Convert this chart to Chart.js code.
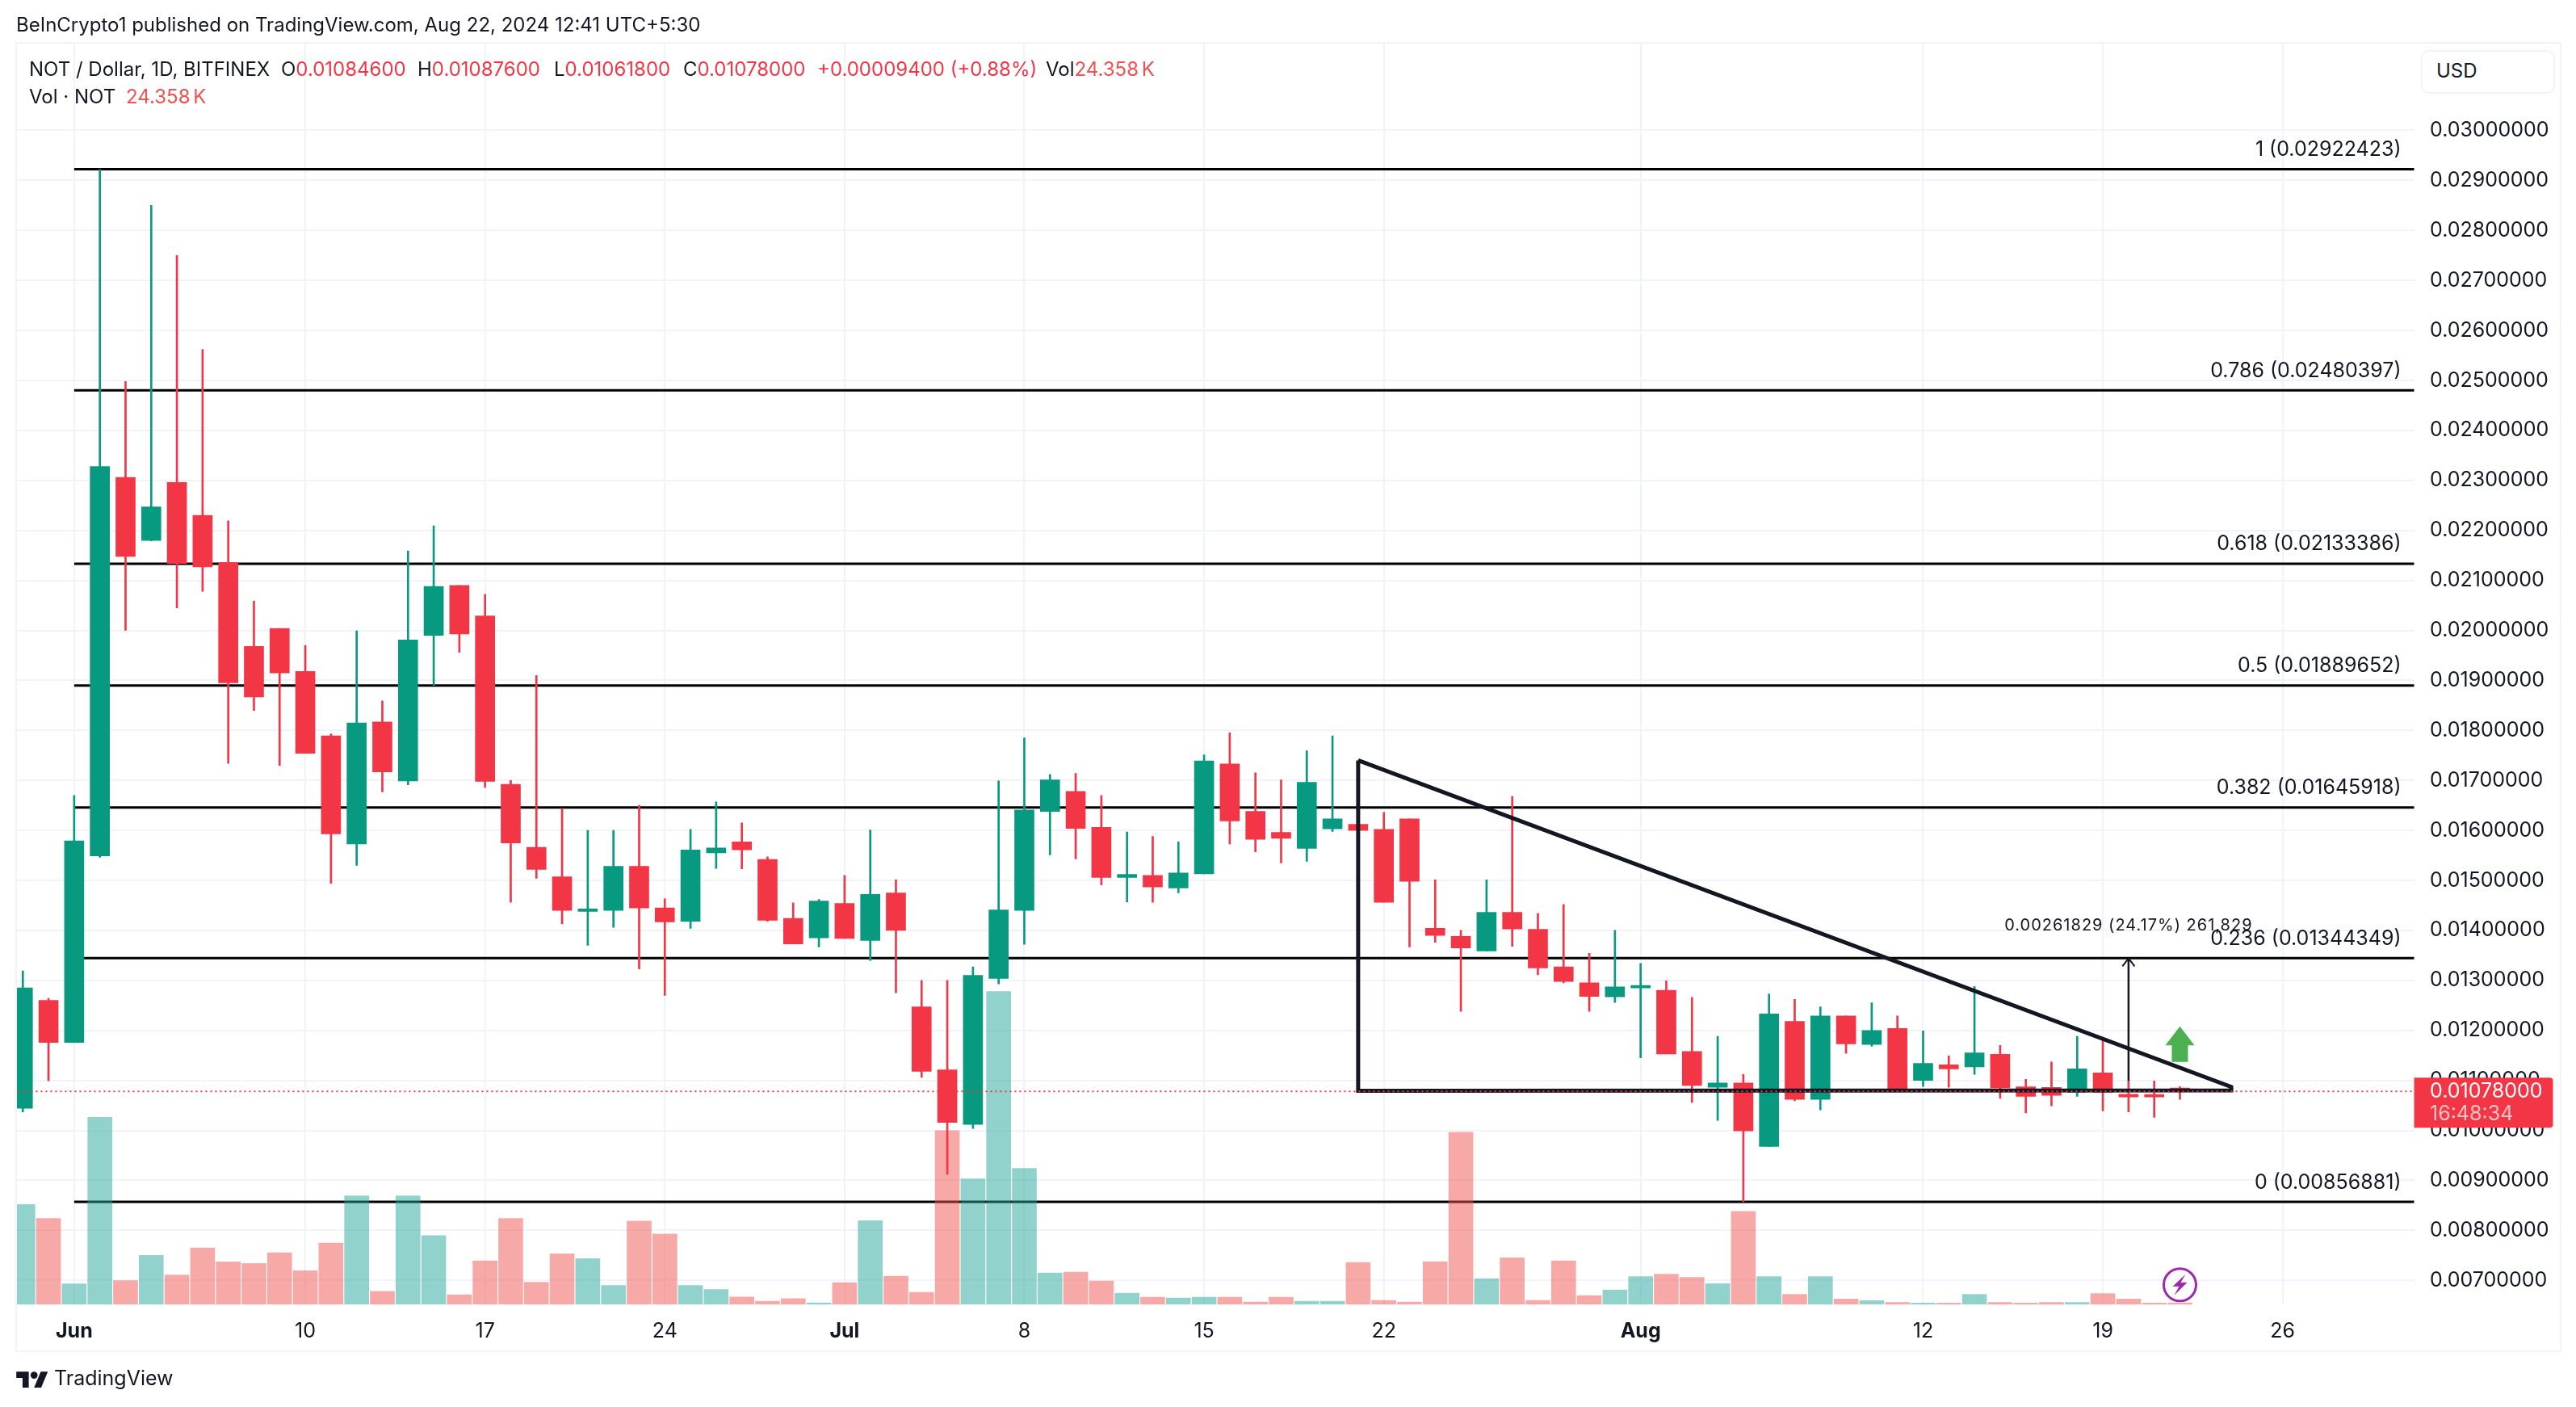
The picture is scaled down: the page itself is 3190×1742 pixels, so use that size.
<!DOCTYPE html>
<html>
<head>
<meta charset="utf-8">
<title>NOT / Dollar, 1D, BITFINEX</title>
<script src="https://cdn.jsdelivr.net/npm/chart.js@4"></script>
<style>
  html, body { margin: 0; padding: 0; background: #fff; }
  #wrap { position: relative; width: 3190px; height: 1742px; overflow: hidden; font-family: Inter, sans-serif; color: #131722; }
  #chart { position: absolute; left: 0; top: 0; }
  .t { position: absolute; white-space: pre; font-size: 24px; line-height: 30px; }
  .r { color: #f23645; }
  .v { color: #ef5350; word-spacing: -3px; }
  #frame { position: absolute; left: 19px; top: 52px; width: 3149px; height: 1618px; border: 2px solid #f0f3fa; pointer-events: none; }
  #usd { position: absolute; left: 2998px; top: 62px; width: 162px; height: 50px; border: 2px solid #f0f3fa; border-radius: 10px; background: #fff; }
  #logo { position: absolute; left: 20px; top: 1696px; }
</style>
</head>
<body>
<div id="wrap">
  <canvas id="chart" width="3190" height="1742"></canvas>
  <div id="frame"></div>
  <div id="usd"></div>
  <div class="t" style="left:3017px;top:73px">USD</div>
  <div class="t" style="left:20px;top:16px">BeInCrypto1 published on TradingView.com, Aug 22, 2024 12:41 UTC+5:30</div>
  <div class="t" style="left:36px;top:71px">NOT / Dollar, 1D, BITFINEX</div>
  <div class="t" style="left:348px;top:71px">O<span class="r">0.01084600</span></div>
  <div class="t" style="left:517px;top:71px">H<span class="r">0.01087600</span></div>
  <div class="t" style="left:686px;top:71px">L<span class="r">0.01061800</span></div>
  <div class="t" style="left:846px;top:71px">C<span class="r">0.01078000</span></div>
  <div class="t r" style="left:1012px;top:71px">+0.00009400 (+0.88%)</div>
  <div class="t" style="left:1295px;top:71px">Vol<span class="v">24.358 K</span></div>
  <div class="t" style="left:36px;top:105px">Vol · NOT</div>
  <div class="t v" style="left:156px;top:105px">24.358 K</div>
  <svg id="logo" width="40" height="22" viewBox="0 0 36 20" fill="#131722">
    <path d="M14 20H7V9H0V2h14v18zM28 20h-8l7.5-18h8L28 20z"/><circle cx="20" cy="6" r="4"/>
  </svg>
  <div class="t" style="left:67px;top:1691px;font-size:25px">TradingView</div>
</div>
<script>
// --- daily candles, May 30 to Aug 22 ---
const firstDay = -2; // May 30, Jun 1 is day 0

const opens = [0.01044,0.01260,0.01176,0.01549,0.02306,0.02180,0.02296,0.02230,0.02136,0.01968,0.02004,0.01918,0.01789,0.01573,0.01817,0.01699,0.01990,0.02090,0.02029,0.01692,0.01566,0.01507,0.01438,0.01440,0.01528,0.01445,0.01418,0.01555,0.01577,0.01542,0.01424,0.01385,0.01454,0.01380,0.01475,0.01247,0.01121,0.01012,0.01304,0.01440,0.01638,0.01678,0.01606,0.01506,0.01510,0.01485,0.01513,0.01733,0.01638,0.01596,0.01564,0.01603,0.01612,0.01602,0.01623,0.01404,0.01388,0.01359,0.01436,0.01402,0.01327,0.01295,0.01267,0.01285,0.01280,0.01158,0.01086,0.01095,0.00968,0.01218,0.01062,0.01229,0.01172,0.01204,0.01100,0.01131,0.01127,0.01152,0.01087,0.01086,0.01076,0.01115,0.01072,0.01069,0.010846];
const highs = [0.01319,0.01264,0.01670,0.02922,0.02498,0.02850,0.02750,0.02562,0.02219,0.02059,0.02004,0.01970,0.01793,0.01999,0.01859,0.02159,0.02209,0.02090,0.02072,0.01700,0.01910,0.01644,0.01600,0.01600,0.01650,0.01463,0.01602,0.01657,0.01615,0.01547,0.01455,0.01462,0.01510,0.01601,0.01501,0.01300,0.01300,0.01327,0.01699,0.01785,0.01712,0.01714,0.01670,0.01597,0.01588,0.01577,0.01751,0.01795,0.01715,0.01701,0.01759,0.01789,0.01711,0.01636,0.01623,0.01501,0.01400,0.01501,0.01668,0.01434,0.01452,0.01354,0.01400,0.01334,0.01299,0.01266,0.01188,0.01112,0.01273,0.01262,0.01247,0.01229,0.01255,0.01229,0.01199,0.01149,0.01288,0.01170,0.01102,0.01137,0.01188,0.01181,0.01099,0.01099,0.010876];
const lows = [0.01037,0.01099,0.01176,0.01546,0.02000,0.02179,0.02045,0.02078,0.01734,0.01840,0.01730,0.01754,0.01494,0.01530,0.01677,0.01691,0.01890,0.01956,0.01686,0.01456,0.01504,0.01413,0.01370,0.01406,0.01323,0.01270,0.01404,0.01524,0.01523,0.01418,0.01373,0.01367,0.01384,0.01340,0.01275,0.01106,0.00912,0.01004,0.01293,0.01372,0.01551,0.01543,0.01491,0.01457,0.01456,0.01475,0.01513,0.01573,0.01557,0.01535,0.01538,0.01598,0.01517,0.01456,0.01367,0.01376,0.01238,0.01359,0.01368,0.01311,0.01295,0.01238,0.01256,0.01145,0.01153,0.01056,0.01020,0.00857,0.00968,0.01059,0.01041,0.01154,0.01168,0.01080,0.01088,0.01086,0.01112,0.01064,0.01035,0.01049,0.01068,0.01039,0.01037,0.01026,0.010618];
const closes = [0.01285,0.01176,0.01579,0.02328,0.02148,0.02247,0.02134,0.02127,0.01895,0.01867,0.01915,0.01754,0.01593,0.01815,0.01717,0.01981,0.02088,0.01993,0.01698,0.01575,0.01522,0.01440,0.01441,0.01528,0.01445,0.01417,0.01561,0.01565,0.01561,0.01420,0.01373,0.014585,0.01384,0.01472,0.01400,0.01118,0.01016,0.01310,0.01441,0.01641,0.01701,0.01604,0.01506,0.01512,0.01487,0.01515,0.01739,0.01619,0.01582,0.01584,0.01696,0.01623,0.01600,0.01456,0.01498,0.01390,0.01365,0.01436,0.01403,0.01325,0.01298,0.01268,0.01287,0.01287,0.01153,0.01090,0.01095,0.00999,0.01233,0.01062,0.01229,0.01173,0.01200,0.01080,0.01134,0.01123,0.01155,0.01085,0.01068,0.01070,0.01123,0.01076,0.01067,0.01067,0.01078];
const volumesK = [1676,1442,343,3139,397,821,495,947,713,685,865,566,1028,1822,218,1822,1153,163,729,1442,370,849,767,316,1398,1180,316,250,125,54,98,27,365,1404,473,203,2916,2106,5251,2282,527,540,392,189,122,108,122,122,41,122,54,54,702,68,41,716,2889,432,783,68,729,149,243,468,506,453,347,1562,468,169,468,92,63,34,24,24,169,34,24,34,34,183,92,24,24.358];

// --- fibonacci retracement ---
const fibRatios = ['1','0.786','0.618','0.5','0.382','0.236','0'];
const fibPrices = [0.02922423,0.02480397,0.02133386,0.01889652,0.01645918,0.01344349,0.00856881];
const fibStartDay = 0;

// --- triangle drawn on the chart: top left, right tip, bottom left ---
const triangleDays = [50,84,84,50,50];
const trianglePrices = [0.01740,0.01087,0.01080,0.01079,0.01740];

// --- price range measure ---
const measureDay = 80;
const measureFrom = 0.01099;
const measureTo = 0.01344;
const measureText = '0.00261829 (24.17%) 261,829';

const lastPrice = 0.01078;
const lastCountdown = '16:48:34';
const markDay = 82; // green arrow and lightning icon

// --- axes ---
const yTicks = [0.030,0.029,0.028,0.027,0.026,0.025,0.024,0.023,0.022,0.021,0.020,0.019,0.018,0.017,0.016,0.015,0.014,0.013,0.012,0.011,0.010,0.009,0.008,0.007];
const xTickDays = [0,9,16,23,30,37,44,51,61,72,79,86];
const xTickLabels = ['Jun','10','17','24','Jul','8','15','22','Aug','12','19','26'];
const boldTicks = ['Jun','Jul','Aug'];

const UP = '#089981', DOWN = '#f23645';
const VOL_UP = 'rgba(38,166,154,0.5)', VOL_DOWN = 'rgba(239,83,80,0.5)';
const FONT = 'Inter, sans-serif';

const dayOf = i => firstDay + i;
const isUp = i => closes[i] >= opens[i];
const candleColors = opens.map((o, i) => isUp(i) ? UP : DOWN);

function hline(price, fromDay, toDay, extra) {
    return Object.assign({
        type: 'line', data: [{ x: fromDay, y: price }, { x: toDay, y: price }],
        pointRadius: 0, borderColor: '#000', borderWidth: 3, yAxisID: 'y', order: 5
    }, extra);
}

const datasets = [
    {
        type: 'bar', grouped: false, yAxisID: 'yVol', order: 4, barThickness: 30,
        data: volumesK.map((v, i) => ({ x: dayOf(i), y: v })),
        backgroundColor: volumesK.map((v, i) => isUp(i) ? VOL_UP : VOL_DOWN)
    },
    {
        type: 'bar', grouped: false, yAxisID: 'y', order: 3, barThickness: 2,
        data: lows.map((l, i) => ({ x: dayOf(i), y: [l, highs[i]] })),
        backgroundColor: candleColors
    },
    {
        type: 'bar', grouped: false, yAxisID: 'y', order: 2, barThickness: 24, minBarLength: 3,
        data: opens.map((o, i) => ({ x: dayOf(i), y: [o, closes[i]] })),
        backgroundColor: candleColors
    },
    // triangle
    {
        type: 'line', yAxisID: 'y', order: 1, pointRadius: 0, borderColor: '#131722', borderWidth: 5,
        borderJoinStyle: 'miter',
        data: triangleDays.map((d, i) => ({ x: d, y: trianglePrices[i] }))
    },
    // measure arrow
    {
        type: 'line', yAxisID: 'y', order: 1, pointRadius: 0, borderColor: '#131722', borderWidth: 2.5,
        data: [{ x: measureDay, y: measureFrom }, { x: measureDay, y: measureTo }]
    },
    {
        type: 'line', yAxisID: 'y', order: 1, pointRadius: 0, borderColor: '#131722', borderWidth: 2,
        data: [{ x: measureDay - 0.24, y: measureTo - 0.00016 }, { x: measureDay, y: measureTo }, { x: measureDay + 0.24, y: measureTo - 0.00016 }]
    },
    // last price dotted line
    hline(lastPrice, -3, 92, { order: 0, borderColor: DOWN, borderWidth: 2, borderDash: [2, 4] })
];
fibPrices.forEach(p => datasets.push(hline(p, fibStartDay, 92)));

// fib labels, measure text, green arrow, lightning icon, price tag
const overlay = {
    id: 'overlay',
    afterDatasetsDraw(chart) {
        const { ctx, chartArea, scales: { x, y } } = chart;
        ctx.save();
        ctx.fillStyle = '#131722';
        ctx.textBaseline = 'middle';
        ctx.textAlign = 'right';
        ctx.font = '25px ' + FONT;
        fibPrices.forEach((p, i) => {
            ctx.fillText(fibRatios[i] + ' (' + p.toFixed(8) + ')', chartArea.right - 16, y.getPixelForValue(p) - 24);
        });
        ctx.textAlign = 'center';
        ctx.font = '20px ' + FONT;
        ctx.letterSpacing = '1px';
        ctx.fillText(measureText, x.getPixelForValue(measureDay), y.getPixelForValue(measureTo) - 41);
        ctx.letterSpacing = '0px';

        // green arrow
        const ax = x.getPixelForValue(markDay);
        ctx.fillStyle = '#4caf50';
        const tip = y.getPixelForValue(0.01208), neck = y.getPixelForValue(0.01170), foot = y.getPixelForValue(0.01137);
        ctx.beginPath();
        ctx.moveTo(ax, tip);
        ctx.lineTo(ax + 18, neck);
        ctx.lineTo(ax + 10, neck);
        ctx.lineTo(ax + 10, foot);
        ctx.lineTo(ax - 10, foot);
        ctx.lineTo(ax - 10, neck);
        ctx.lineTo(ax - 18, neck);
        ctx.closePath();
        ctx.fill();

        // lightning icon
        const cy = y.getPixelForValue(0.00691);
        ctx.strokeStyle = '#9c27b0';
        ctx.fillStyle = 'rgba(255,255,255,0.6)';
        ctx.lineWidth = 3;
        ctx.beginPath();
        ctx.arc(ax, cy, 20, 0, Math.PI * 2);
        ctx.fill();
        ctx.stroke();
        ctx.fillStyle = '#9c27b0';
        ctx.beginPath();
        ctx.moveTo(ax + 7, cy - 13);
        ctx.lineTo(ax - 9, cy + 2);
        ctx.lineTo(ax - 1, cy + 2);
        ctx.lineTo(ax - 7, cy + 13);
        ctx.lineTo(ax + 9, cy - 3);
        ctx.lineTo(ax + 1, cy - 3);
        ctx.closePath();
        ctx.fill();

        // price tag over the axis
        const ty = y.getPixelForValue(lastPrice);
        ctx.fillStyle = DOWN;
        ctx.beginPath();
        ctx.roundRect(chartArea.right, ty - 17, 172, 62, [0, 4, 4, 0]);
        ctx.fill();
        ctx.textAlign = 'left';
        ctx.font = '25px ' + FONT;
        ctx.fillStyle = '#fff';
        ctx.fillText(lastPrice.toFixed(8), chartArea.right + 19.5, ty);
        ctx.fillStyle = '#fbc3c7';
        ctx.fillText(lastCountdown, chartArea.right + 19.5, ty + 28);
        ctx.restore();
    }
};

new Chart(document.getElementById('chart').getContext('2d'), {
    type: 'bar',
    data: { datasets },
    plugins: [overlay],
    options: {
        responsive: false,
        animation: false,
        devicePixelRatio: 1,
        layout: { padding: { left: 20, top: 53.6, right: 24.5, bottom: 70 } },
        plugins: { legend: { display: false }, tooltip: { enabled: false } },
        scales: {
            x: {
                type: 'linear', offset: false,
                min: -2.26, max: 91.12,
                afterBuildTicks: s => { s.ticks = xTickDays.map(v => ({ value: v })); },
                afterFit: s => { s.height = 57; },
                grid: { color: '#f0f3fa', lineWidth: 2, drawTicks: false, offset: false },
                border: { display: false },
                ticks: {
                    autoSkip: false, maxRotation: 0, padding: 18, color: '#131722',
                    font: c => ({
                        family: FONT, size: 25,
                        weight: c.tick && boldTicks.includes(xTickLabels[xTickDays.indexOf(c.tick.value)]) ? '700' : '400'
                    }),
                    callback: v => xTickLabels[xTickDays.indexOf(v)]
                }
            },
            y: {
                position: 'right',
                min: 0.006519, max: 0.031743,
                afterBuildTicks: s => { s.ticks = yTicks.map(v => ({ value: v })); },
                afterFit: s => { s.width = 176; },
                grid: { color: '#f0f3fa', lineWidth: 2, drawTicks: false },
                border: { display: false },
                ticks: {
                    autoSkip: false, padding: 19.5, color: '#131722', crossAlign: 'near',
                    font: { family: FONT, size: 25 },
                    callback: v => v.toFixed(8)
                }
            },
            yVol: { display: false, min: 0, max: 21157 }
        }
    }
});
</script>
</body>
</html>
